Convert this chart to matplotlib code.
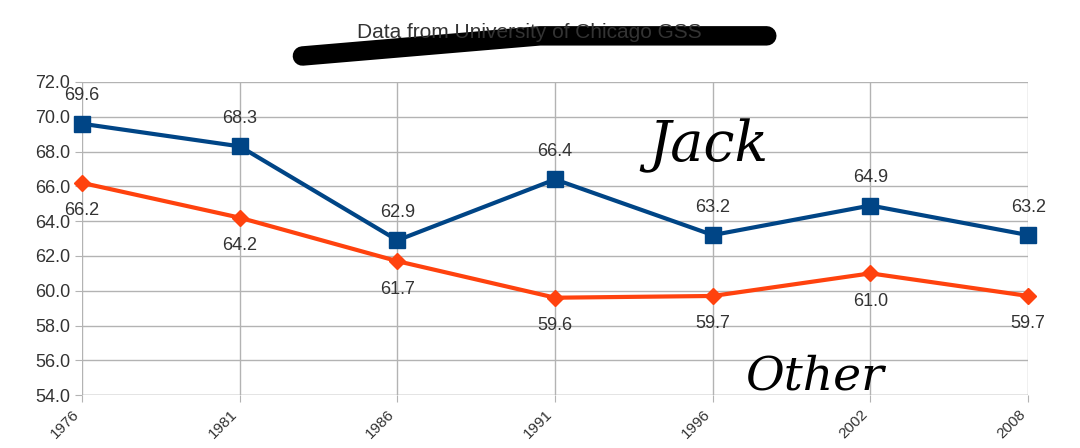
import matplotlib
matplotlib.use("Agg")
import matplotlib.pyplot as plt

years = ["1976", "1981", "1986", "1991", "1996", "2002", "2008"]
jack = [69.6, 68.3, 62.9, 66.4, 63.2, 64.9, 63.2]
other = [66.2, 64.2, 61.7, 59.6, 59.7, 61.0, 59.7]

plt.rcParams['font.family'] = ['Liberation Sans', 'DejaVu Sans']

fig = plt.figure(figsize=(10.8, 4.48), dpi=100)
ax = fig.add_axes([0.076, 0.118, 0.876, 0.699])

x = list(range(len(years)))
ax.plot(x, jack, color="#004586", lw=3, marker="s", ms=11, zorder=3, clip_on=False)
ax.plot(x, other, color="#ff420e", lw=3, marker="D", ms=8, zorder=3, clip_on=False)

for i, v in enumerate(jack):
    ax.annotate(f"{v:.1f}", (i, v), xytext=(0, 14), textcoords="offset points",
                ha="center", va="bottom", fontsize=13, color="#333333")
for i, v in enumerate(other):
    ax.annotate(f"{v:.1f}", (i, v), xytext=(0, -14), textcoords="offset points",
                ha="center", va="top", fontsize=13, color="#333333")

ax.set_xlim(0, len(years) - 1)
ax.set_ylim(54, 72)
ax.set_yticks([54 + 2 * k for k in range(10)])
ax.set_yticklabels([f"{54 + 2 * k:.1f}" for k in range(10)], fontsize=13, color="#333333")
ax.set_xticks(x)
ax.set_xticklabels(years, rotation=45, ha="right", fontsize=11, color="#333333")
ax.grid(axis="y", color="#b3b3b3", lw=1)
ax.grid(axis="x", color="#b3b3b3", lw=1)
for s in ax.spines.values():
    s.set_visible(False)
ax.axhline(54, color="#b3b3b3", lw=1)
ax.tick_params(length=5, color="#b3b3b3")

fig.text(0.49, 0.915, "Data from University of Chicago GSS", ha="center",
         fontsize=15, color="#333333")
# black scribble over the title, as in the reference
fig.add_artist(plt.Line2D([0.28, 0.5, 0.71], [0.875, 0.92, 0.92], color="black",
                          lw=14, solid_capstyle="round", transform=fig.transFigure))

# hand written notes
fig.text(0.6, 0.64, "Jack", fontsize=40, style="italic", color="black",
         family=["DejaVu Serif"], fontweight="light")
fig.text(0.69, 0.13, "Other", fontsize=34, style="italic", color="black",
         family=["DejaVu Serif"], fontweight="light")

fig.savefig("out.png", dpi=100)
